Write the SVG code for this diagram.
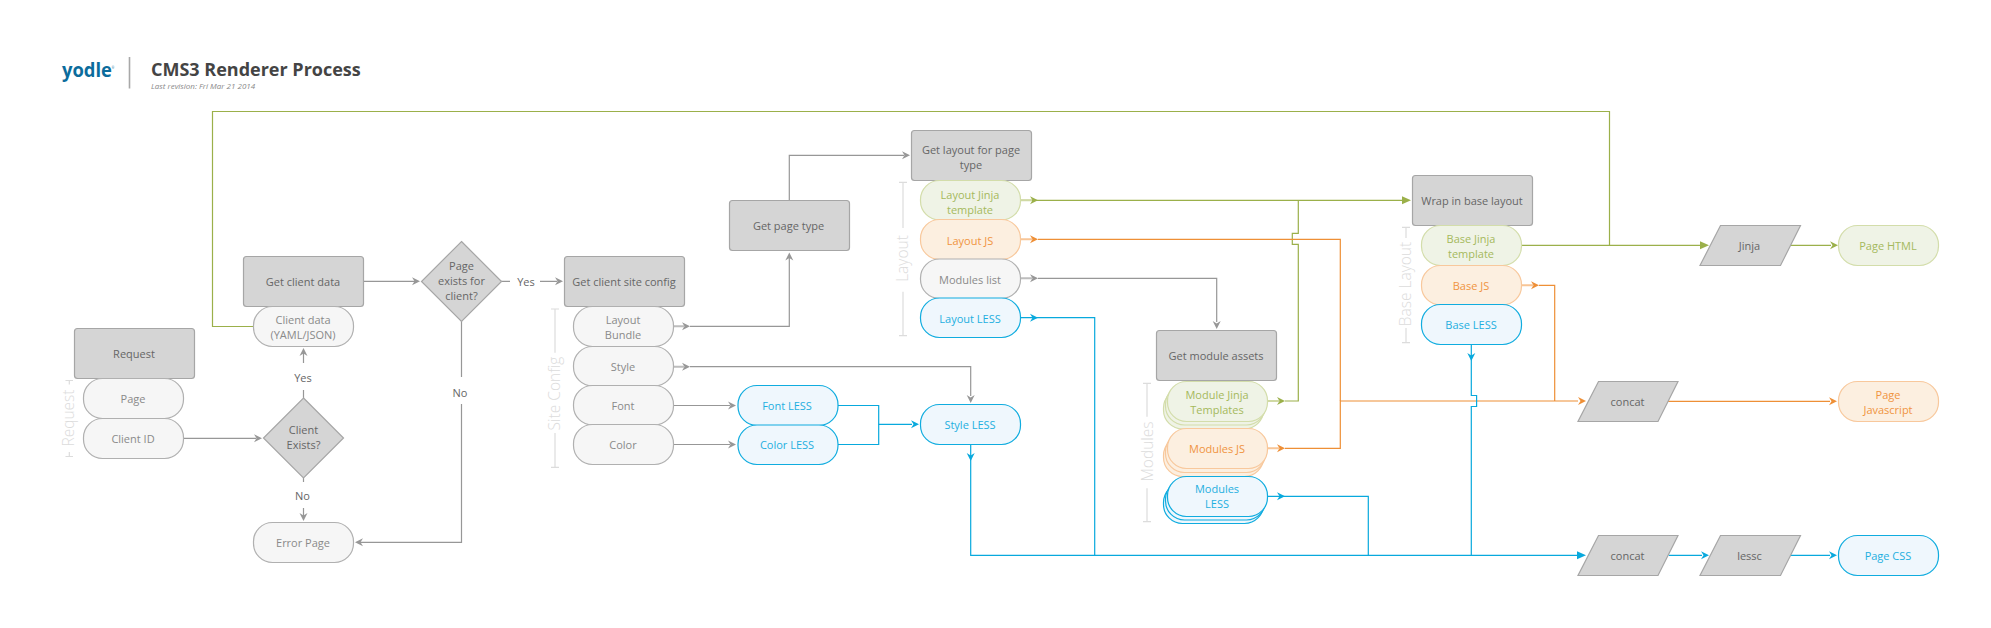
<svg xmlns="http://www.w3.org/2000/svg" width="1991" height="628" viewBox="0 0 1991 628">
<style>
text{font-family:"Open Sans","Noto Sans","DejaVu Sans",sans-serif;font-size:11px;text-anchor:middle}
.box{fill:#d5d5d5;stroke:#a6a6a6;stroke-width:1.2}
.bt{fill:#666}
.p{fill:#f6f6f6;stroke:#b0b0b0;stroke-width:1.2}.pt{fill:#8a8a8a}
.g{fill:#eff3e6;stroke:#d3ddaa;stroke-width:1.2}.gt{fill:#a5b95c}
.o{fill:#fcefe0;stroke:#f8c89c;stroke-width:1.2}.ot{fill:#f0943f}
.b{fill:#eff7fd;stroke:#10acdf;stroke-width:1.2}.bl{fill:#1eafe0}
.l{fill:none;stroke-width:1.2}
.cg{stroke:#979797}.cv{stroke:#9bb04a}.co{stroke:#ee8f36}.cb{stroke:#08a9dd}
.ag{fill:#979797}.av{fill:#9bb04a}.ao{fill:#ee8f36}.ab{fill:#08a9dd}
.sg{stroke:#bdbdbd;stroke-width:2;fill:none}.sv{stroke:#d0d9a4;stroke-width:2;fill:none}.so{stroke:#f8c596;stroke-width:2;fill:none}
.lab{fill:#666}
.br{fill:none;stroke:#dcdcdc;stroke-width:1.2}
.brt{fill:#dcdcdc;font-size:15.5px;font-weight:300}
</style>
<defs>
<path id="h" d="M-8,-4 L0,0 L-8,4 L-5.5,0 Z"/>
<path id="t" d="M-9,-4 L0,0 L-9,4 Z"/>
</defs>

<g id="header">
<text x="62" y="77" style="font-family:'Open Sans',sans-serif;font-size:19.5px;font-weight:700;text-anchor:start;fill:#0b6c9c" textLength="50" lengthAdjust="spacingAndGlyphs">yodle</text>
<text x="113" y="69" style="font-size:3px;text-anchor:middle;fill:#0b6c9c">®</text>
<line x1="129.5" y1="57" x2="129.5" y2="88.5" stroke="#a8a8a8" stroke-width="1.6"/>
<text x="151" y="76" style="font-size:18px;font-weight:700;text-anchor:start;fill:#444">CMS3 Renderer Process</text>
<text x="151" y="88.5" style="font-size:8px;font-style:italic;text-anchor:start;fill:#888">Last revision: Fri Mar 21 2014</text>
</g>

<g id="connectors">
<path class="l cv" d="M253.3,326.5H212.5V111.5H1609.5V245.3"/>
<path class="l cv" d="M1521.3,245.3H1701"/>
<path class="l cv" d="M1791,245.3H1831"/>
<path class="l cv" d="M1020.3,200.3H1404"/>
<path class="l cv" d="M1285,401H1298.3V244.3H1292.3V233.3H1298.3V200.3"/>
<path class="l co" d="M1038,239.3H1340.3V401"/>
<path class="l co" d="M1285,448.3H1340.3V401H1578"/>
<path class="l co" d="M1539,285.3H1554.7V401"/>
<path class="l co" d="M1668,401.3H1830"/>
<path class="l cb" d="M1020.3,317.7H1094.7V555.3"/>
<path class="l cb" d="M970.7,444.3V555.3H1578"/>
<path class="l cb" d="M1267.7,496.3H1368.3V555.3"/>
<path class="l cb" d="M1471.3,344.5V395.5H1476.6V406.5H1471.3V555.3"/>
<path class="l cb" d="M1668.7,555.3H1702"/>
<path class="l cb" d="M1791,555.3H1830"/>
<path class="l cb" d="M838,405.5H878.7V444.5H838"/>
<path class="l cb" d="M878.7,424.3H912"/>
<path class="l cg" d="M183.3,438.3H256"/>
<path class="l cg" d="M303.5,398V390M303.5,363V352"/>
<path class="l cg" d="M303.5,478V482M303.5,508V517"/>
<path class="l cg" d="M363.5,281.3H415"/>
<path class="l cg" d="M461.5,321V377M461.5,404V542.3H360"/>
<path class="l cg" d="M501,281.3H510M540,281.3H557"/>
<path class="l cg" d="M690,326.3H789.3V258"/>
<path class="l cg" d="M789.3,200.3V155.3H904"/>
<path class="l cg" d="M690,366.7H970.7V396"/>
<path class="l cg" d="M673.3,405.5H730"/>
<path class="l cg" d="M673.3,444.5H730"/>
<path class="l cg" d="M1038,278.3H1216.7V322"/>
<path class="sg" d="M673.3,326.3H684M673.3,366.7H684M1020.3,278.3H1032"/>
<path class="sv" d="M1020.3,200.3H1032M1267.7,401H1279"/>
<path class="so" d="M1020.3,239.3H1032M1267.7,448.3H1279M1521.3,285.3H1533"/>
<use href="#h" class="ag" transform="translate(262,438.3)"/>
<use href="#h" class="ag" transform="translate(303.5,348) rotate(-90)"/>
<use href="#h" class="ag" transform="translate(303.5,521) rotate(90)"/>
<use href="#h" class="ag" transform="translate(420,281.3)"/>
<use href="#h" class="ag" transform="translate(355,542.3) rotate(180)"/>
<use href="#h" class="ag" transform="translate(563,281.3)"/>
<use href="#h" class="ag" transform="translate(690,326.3)"/>
<use href="#h" class="ag" transform="translate(789.3,252.5) rotate(-90)"/>
<use href="#h" class="ag" transform="translate(910,155.3)"/>
<use href="#h" class="ag" transform="translate(690,366.7)"/>
<use href="#h" class="ag" transform="translate(970.7,403) rotate(90)"/>
<use href="#h" class="ag" transform="translate(736,405.5)"/>
<use href="#h" class="ag" transform="translate(736,444.5)"/>
<use href="#h" class="ag" transform="translate(1038,278.3)"/>
<use href="#h" class="ag" transform="translate(1216.7,329) rotate(90)"/>
<use href="#h" class="av" transform="translate(1038,200.3)"/>
<use href="#t" class="av" transform="translate(1411,200.3)"/>
<use href="#t" class="av" transform="translate(1709,245.3)"/>
<use href="#h" class="av" transform="translate(1838,245.3)"/>
<use href="#h" class="av" transform="translate(1285,401)"/>
<use href="#h" class="ao" transform="translate(1038,239.3)"/>
<use href="#h" class="ao" transform="translate(1285,448.3)"/>
<use href="#h" class="ao" transform="translate(1539,285.3)"/>
<use href="#h" class="ao" transform="translate(1586,401)"/>
<use href="#h" class="ao" transform="translate(1837,401.3)"/>
<use href="#h" class="ab" transform="translate(1038,317.7)"/>
<use href="#h" class="ab" transform="translate(1285,496.3)"/>
<use href="#h" class="ab" transform="translate(919,424.3)"/>
<use href="#h" class="ab" transform="translate(970.7,461) rotate(90)"/>
<use href="#h" class="ab" transform="translate(1471.3,361) rotate(90)"/>
<use href="#t" class="ab" transform="translate(1586,555.3)"/>
<use href="#h" class="ab" transform="translate(1709,555.3)"/>
<use href="#h" class="ab" transform="translate(1837,555.3)"/>
</g>

<g id="labels">
<text class="lab" x="303" y="382">Yes</text>
<text class="lab" x="302.5" y="500">No</text>
<text class="lab" x="526" y="285.5">Yes</text>
<text class="lab" x="460" y="396.5">No</text>
</g>

<g id="bracket-request">
<path class="br" d="M65.5,380.5H73M69.3,380.5V384.5M69.3,452V456.5M65.5,456.5H73"/>
<text class="brt" transform="translate(73.5,418) rotate(-90)">Request</text>
</g>
<g id="bracket-site"><path class="br" d="M551,309H559M555,309V352.7M555,433V467.3M551,467.3H559"/>
<text class="brt" transform="translate(560,393.5) rotate(-90)">Site Config</text></g>
<g id="bracket-layout"><path class="br" d="M899,182.3H907M903,182.3V228M903,291.7V335.7M899,335.7H907"/>
<text class="brt" transform="translate(908.3,258.5) rotate(-90)">Layout</text></g>
<g id="bracket-modules"><path class="br" d="M1143,383.3H1151M1147,383.3V416.7M1147,488.3V521.7M1143,521.7H1151"/>
<text class="brt" transform="translate(1153,451.5) rotate(-90)">Modules</text></g>
<g id="bracket-base"><path class="br" d="M1402,227.3H1410M1406,227.3V238M1406,328V342.7M1402,342.7H1410"/>
<text class="brt" transform="translate(1411,284) rotate(-90)">Base Layout</text></g>

<g id="request"><rect class="box" x="74.5" y="328.5" width="120" height="50" rx="3"/><text class="bt" x="134" y="358">Request</text></g>
<g id="page"><rect class="p" x="83.5" y="378.5" width="100" height="40" rx="19"/><text class="pt" x="133" y="403">Page</text></g>
<g id="client-id"><rect class="p" x="83.5" y="418.5" width="100" height="40" rx="19"/><text class="pt" x="133" y="443">Client ID</text></g>
<g id="client-exists"><path class="box" d="M303.5,398 L343.5,438 L303.5,478 L263.5,438 Z"/><text class="bt" x="303.5" y="434">Client</text><text class="bt" x="303.5" y="449">Exists?</text></g>
<g id="error-page"><rect class="p" x="253.5" y="522.5" width="100" height="40" rx="19"/><text class="pt" x="303" y="547">Error Page</text></g>
<g id="get-client-data"><rect class="box" x="243.5" y="256.5" width="120" height="50" rx="3"/><text class="bt" x="303" y="286">Get client data</text></g>
<g id="client-data"><rect class="p" x="253.5" y="306.5" width="100" height="40" rx="19"/><text class="pt" x="303" y="324">Client data</text><text class="pt" x="303" y="339">(YAML/JSON)</text></g>
<g id="page-exists"><path class="box" d="M461.5,241.5 L501.5,281.5 L461.5,321.5 L421.5,281.5 Z"/><text class="bt" x="461.5" y="270">Page</text><text class="bt" x="461.5" y="285">exists for</text><text class="bt" x="461.5" y="300">client?</text></g>
<g id="get-site-config"><rect class="box" x="564.5" y="256.5" width="120" height="50" rx="3"/><text class="bt" x="624" y="286">Get client site config</text></g>
<g id="layout-bundle"><rect class="p" x="573.5" y="306.5" width="100" height="40" rx="19"/><text class="pt" x="623" y="324">Layout</text><text class="pt" x="623" y="339">Bundle</text></g>
<g id="style"><rect class="p" x="573.5" y="346.5" width="100" height="39.5" rx="19"/><text class="pt" x="623" y="371">Style</text></g>
<g id="font"><rect class="p" x="573.5" y="385.5" width="100" height="39.5" rx="19"/><text class="pt" x="623" y="410">Font</text></g>
<g id="color"><rect class="p" x="573.5" y="424.5" width="100" height="40" rx="19"/><text class="pt" x="623" y="449">Color</text></g>
<g id="font-less"><rect class="b" x="738" y="385.5" width="100" height="40" rx="19"/><text class="bl" x="787" y="410">Font LESS</text></g>
<g id="color-less"><rect class="b" x="738" y="425" width="100" height="39.5" rx="19"/><text class="bl" x="787" y="449">Color LESS</text></g>
<g id="style-less"><rect class="b" x="920.5" y="404.5" width="100" height="40" rx="19"/><text class="bl" x="970" y="429">Style LESS</text></g>
<g id="get-page-type"><rect class="box" x="729.5" y="200.5" width="120" height="50" rx="3"/><text class="bt" x="788.5" y="230">Get page type</text></g>
<g id="get-layout"><rect class="box" x="911.5" y="130.5" width="120" height="50" rx="3"/><text class="bt" x="971" y="153.5">Get layout for page</text><text class="bt" x="971" y="168.5">type</text></g>
<g id="layout-jinja"><rect class="g" x="920.5" y="180.5" width="100" height="39.5" rx="19"/><text class="gt" x="970" y="198.5">Layout Jinja</text><text class="gt" x="970" y="213.5">template</text></g>
<g id="layout-js"><rect class="o" x="920.5" y="219.5" width="100" height="40" rx="19"/><text class="ot" x="970" y="244.5">Layout JS</text></g>
<g id="modules-list"><rect class="p" x="920.5" y="259" width="100" height="39.5" rx="19"/><text class="pt" x="970" y="283.5">Modules list</text></g>
<g id="layout-less"><rect class="b" x="920.5" y="298" width="100" height="39.5" rx="19"/><text class="bl" x="970" y="322.5">Layout LESS</text></g>
<g id="get-module-assets"><rect class="box" x="1156.5" y="330.5" width="120" height="50" rx="3"/><text class="bt" x="1216" y="360">Get module assets</text></g>
<g id="module-jinja"><rect class="g" x="1163.5" y="389" width="100" height="40" rx="19"/><rect class="g" x="1165.5" y="385" width="100" height="40" rx="19"/><rect class="g" x="1167.5" y="381.5" width="100" height="40" rx="19"/><text class="gt" x="1217" y="398.5">Module Jinja</text><text class="gt" x="1217" y="413.5">Templates</text></g>
<g id="modules-js"><rect class="o" x="1163.5" y="436.5" width="100" height="40" rx="19"/><rect class="o" x="1165.5" y="432.5" width="100" height="40" rx="19"/><rect class="o" x="1167.5" y="428.5" width="100" height="40" rx="19"/><text class="ot" x="1217" y="453">Modules JS</text></g>
<g id="modules-less"><rect class="b" x="1163.5" y="483.5" width="100" height="40" rx="19"/><rect class="b" x="1165.5" y="480" width="100" height="40" rx="19"/><rect class="b" x="1167.5" y="476.5" width="100" height="40" rx="19"/><text class="bl" x="1217" y="493">Modules</text><text class="bl" x="1217" y="508">LESS</text></g>
<g id="wrap-base"><rect class="box" x="1412.5" y="175.5" width="120" height="50" rx="3"/><text class="bt" x="1472" y="205">Wrap in base layout</text></g>
<g id="base-jinja"><rect class="g" x="1421.5" y="225.5" width="100" height="40" rx="19"/><text class="gt" x="1471" y="242.5">Base Jinja</text><text class="gt" x="1471" y="257.5">template</text></g>
<g id="base-js"><rect class="o" x="1421.5" y="265.5" width="100" height="39.5" rx="19"/><text class="ot" x="1471" y="290">Base JS</text></g>
<g id="base-less"><rect class="b" x="1421.5" y="304.5" width="100" height="40" rx="19"/><text class="bl" x="1471" y="329">Base LESS</text></g>
<g id="jinja"><path class="box" d="M1720.5,225.5H1800.5L1780.5,265.5H1700Z"/><text class="bt" x="1749.5" y="250">Jinja</text></g>
<g id="page-html"><rect class="g" x="1838.5" y="225.5" width="100" height="40" rx="19"/><text class="gt" x="1888" y="250">Page HTML</text></g>
<g id="concat-js"><path class="box" d="M1598.5,381.5H1678L1658,421.5H1578Z"/><text class="bt" x="1627.5" y="406">concat</text></g>
<g id="page-js"><rect class="o" x="1838.5" y="381.5" width="100" height="40" rx="19"/><text class="ot" x="1888" y="398.5">Page</text><text class="ot" x="1888" y="413.5">Javascript</text></g>
<g id="concat-css"><path class="box" d="M1598.5,535.5H1678L1658,575.5H1578Z"/><text class="bt" x="1627.5" y="560">concat</text></g>
<g id="lessc"><path class="box" d="M1720.5,535.5H1800.5L1780.5,575.5H1700Z"/><text class="bt" x="1749.5" y="560">lessc</text></g>
<g id="page-css"><rect class="b" x="1838.5" y="535.5" width="100" height="40" rx="19"/><text class="bl" x="1888" y="560">Page CSS</text></g>
</svg>
